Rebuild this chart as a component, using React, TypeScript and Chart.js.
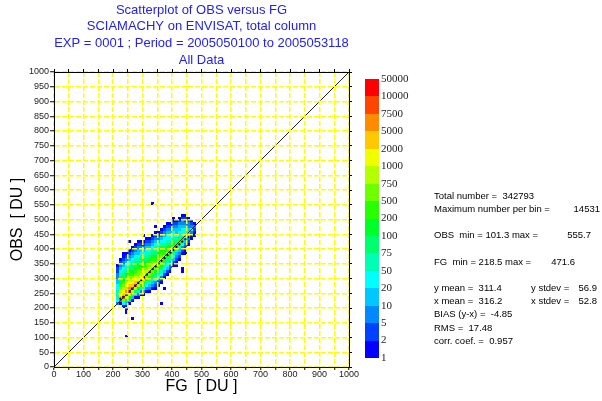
import React, { useEffect, useRef } from 'react';
import { Chart, registerables } from 'chart.js';

Chart.register(...registerables);

// ---------- data ----------
const TITLE_LINES = [
  'Scatterplot of OBS versus FG',
  'SCIAMACHY on ENVISAT, total column',
  'EXP = 0001 ; Period = 2005050100 to 2005053118',
  'All Data',
];
const X_TITLE = 'FG  [ DU ]';
const Y_TITLE = 'OBS  [ DU ]';

const BIN_SIZE = 10;
// FG bins (lower edges); each has a column of colour classes starting at OBS bin LEVEL_START
const FG_BINS = [210, 220, 230, 240, 250, 260, 270, 280, 290, 300, 310, 320, 330, 340, 350, 360, 370, 380, 390, 400, 410, 420, 430, 440, 450, 460, 470];
const LEVEL_START = [210, 210, 200, 200, 210, 220, 230, 230, 240, 240, 250, 250, 260, 260, 270, 280, 300, 310, 320, 340, 350, 360, 380, 390, 410, 430, 440];
// colour class per OBS bin: 1..9, a..g = class 1..16
const LEVEL_COLUMNS = [
  '35666554433221',
  '1fdcba9877654321',
  '15afdcba9877654321',
  '148bgedcba987654321',
  '148bgedcba987654321',
  '147bfdcba9877654321',
  '147bfdcba9877654321',
  '1368becbaa9876544321',
  '1368becba9877654321',
  '13579becba987654321',
  '13568adba9876654321',
  '134679adba987654321',
  '134679adba987654321',
  '1235678aca9876654321',
  '1235678aca987654321',
  '1235678aca987654321',
  '1245679b9876554321',
  '1245679b9876554321',
  '1234678a876554321',
  '124568a876554321',
  '123467976544321',
  '123467976544321',
  '12356865543321',
  '1234575543221',
  '1234643321',
  '1235321',
  '11231',
];
// isolated single-count bins (lower edges)
const OUTLIER_FG = [330, 250, 430, 430, 370, 260, 240, 360, 240, 240, 300, 340, 400, 440, 410, 230];
const OUTLIER_OBS = [550, 420, 320, 330, 260, 160, 100, 210, 190, 180, 440, 470, 500, 380, 340, 380];

// mean OBS per FG bin (black dots)
const MEAN_FG = [225, 235, 245, 255, 265, 275, 285, 295, 305, 315, 325, 335, 345, 355, 365, 375, 385, 395, 405, 415, 425, 435, 445, 455, 465];
const MEAN_OBS = [232, 238, 247, 256, 265, 275, 284, 294, 303, 313, 322, 332, 341, 351, 360, 369, 379, 388, 397, 407, 416, 425, 433, 440, 445];

const COLORBAR_LABELS = ['1', '2', '5', '10', '20', '50', '75', '100', '200', '500', '750', '1000', '2000', '5000', '7500', '10000', '50000'];
const COLORBAR_COLORS = [
  '#0000ff', '#0040ff', '#0088ff', '#00c8ff', '#00ffff', '#00ffb4', '#00ff6e', '#00ff28',
  '#28ff00', '#6eff00', '#b4ff00', '#f0ff00', '#ffc800', '#ff8c00', '#ff4600', '#ff0000',
];

// statistics text
const STATS_LINES = [
  ['Total number =  342793'],
  ['Maximum number per bin =', '14531'],
  [],
  ['OBS  min = 101.3 max =', '555.7'],
  [],
  ['FG  min = 218.5 max =', '471.6'],
  [],
  ['y mean =  311.4', 'y stdev =', '56.9'],
  ['x mean =  316.2', 'x stdev =', '52.8'],
  ['BIAS (y-x) =  -4.85'],
  ['RMS =  17.48'],
  ['corr. coef. =  0.957'],
];

// ---------- build ----------
type Cell = { x: number; y: number; level: number };
function buildCells(): Cell[] {
  const cells: Cell[] = [];
  FG_BINS.forEach((fg, i) => {
    const col = LEVEL_COLUMNS[i];
    for (let j = 0; j < col.length; j++) {
      const lv = parseInt(col[j], 17);
      if (lv > 0) cells.push({ x: fg + BIN_SIZE / 2, y: LEVEL_START[i] + j * BIN_SIZE + BIN_SIZE / 2, level: lv });
    }
  });
  OUTLIER_FG.forEach((fg, k) => cells.push({ x: fg + BIN_SIZE / 2, y: OUTLIER_OBS[k] + BIN_SIZE / 2, level: 1 }));
  return cells;
}

const SANS = '"Liberation Sans", Arial, sans-serif';
const SERIF = '"Liberation Serif", "Times New Roman", serif';

const extrasPlugin = {
  id: 'extras',
  beforeDatasetsDraw(chart: any) {
    const { ctx, chartArea, scales } = chart;
    const xs = scales.x, ys = scales.y;
    ctx.save();
    ctx.beginPath();
    ctx.rect(chartArea.left, chartArea.top, chartArea.right - chartArea.left, chartArea.bottom - chartArea.top);
    ctx.clip();
    const cells = chart.data.datasets[0].data as Cell[];
    for (const c of cells) {
      const x0 = Math.round(xs.getPixelForValue(c.x - BIN_SIZE / 2));
      const x1 = Math.round(xs.getPixelForValue(c.x + BIN_SIZE / 2));
      const y0 = Math.round(ys.getPixelForValue(c.y + BIN_SIZE / 2));
      const y1 = Math.round(ys.getPixelForValue(c.y - BIN_SIZE / 2));
      ctx.fillStyle = COLORBAR_COLORS[c.level - 1];
      ctx.fillRect(x0, y0, x1 - x0, y1 - y0);
    }
    ctx.restore();
    ctx.beginPath();
  },
  afterDraw(chart: any) {
    const { ctx, chartArea } = chart;
    ctx.save();
    // title
    ctx.fillStyle = '#2222ee';
    ctx.font = '13px ' + SANS;
    ctx.textAlign = 'center';
    ctx.textBaseline = 'middle';
    const cx = (chartArea.left + chartArea.right) / 2;
    TITLE_LINES.forEach((t, i) => ctx.fillText(t, cx, 10 + i * 16.7));

    // colour bar
    const barL = 365, barR = 379, barTop = 79, barBot = 358;
    const h = (barBot - barTop) / COLORBAR_COLORS.length;
    COLORBAR_COLORS.forEach((col, i) => {
      const yb = barBot - i * h;
      const yt = barBot - (i + 1) * h;
      ctx.fillStyle = col;
      ctx.fillRect(barL, Math.round(yt), barR - barL, Math.round(yb) - Math.round(yt));
    });
    ctx.fillStyle = '#222';
    ctx.font = '11px ' + SERIF;
    ctx.textAlign = 'left';
    COLORBAR_LABELS.forEach((lab, i) => ctx.fillText(lab, 381, barBot - i * h));

    // statistics
    ctx.fillStyle = '#000';
    ctx.font = '9.5px ' + SANS;
    // [x, align] per part
    const partPos: Record<number, [number, CanvasTextAlign][]> = {
      1: [[434, 'left'], [600, 'right']],
      3: [[434, 'left'], [591, 'right']],
      5: [[434, 'left'], [575, 'right']],
      7: [[434, 'left'], [531, 'left'], [597, 'right']],
      8: [[434, 'left'], [531, 'left'], [597, 'right']],
    };
    STATS_LINES.forEach((parts, i) => {
      const y = 196 + i * 13.2;
      const pos = partPos[i] ?? [[434, 'left']];
      parts.forEach((p, k) => {
        const [px, al] = pos[k] ?? [434, 'left'];
        ctx.textAlign = al;
        ctx.fillText(p, px, y);
      });
    });
    ctx.restore();
  },
};

export default function App() {
  const ref = useRef<HTMLCanvasElement | null>(null);
  useEffect(() => {
    if (!ref.current) return;
    const cells = buildCells();
    const means = MEAN_FG.map((x, i) => ({ x, y: MEAN_OBS[i] }));
    const tickFont = { family: SANS, size: 9 };
    const frameAxis = (pos: string) => ({
      type: 'linear', min: 0, max: 1000, position: pos,
      ticks: { stepSize: 50, autoSkip: false, display: false },
      grid: { drawOnChartArea: false, tickLength: 3, tickColor: '#000', tickWidth: 1, z: 1 },
      border: { color: '#000', width: 1, z: 2 },
      afterFit: (s: any) => {
        if (pos === 'top') s.height = 0; else s.width = 0;
        s.paddingLeft = 0; s.paddingRight = 0; s.paddingTop = 0; s.paddingBottom = 0;
      },
    });
    const chart = new Chart(ref.current, {
      type: 'scatter',
      data: {
        datasets: [
          { label: 'bins', data: cells as any, pointRadius: 0, pointHoverRadius: 0 },
          {
            label: 'y = x', type: 'line' as any, data: [{ x: 0, y: 0 }, { x: 1000, y: 1000 }],
            borderColor: '#222', borderWidth: 1, pointRadius: 0, fill: false,
          },
          { label: 'mean', data: means, pointRadius: 1.1, backgroundColor: '#000', borderWidth: 0 },
        ],
      },
      options: {
        animation: false,
        responsive: false,
        devicePixelRatio: 1,
        events: [],
        layout: { padding: { left: 0, top: 72, right: 253, bottom: 0 } },
        plugins: { legend: { display: false }, tooltip: { enabled: false }, title: { display: false } },
        scales: {
          x: {
            type: 'linear', min: 0, max: 1000, position: 'bottom',
            ticks: {
              stepSize: 50, autoSkip: false, maxRotation: 0, padding: -1, color: '#222', font: tickFont,
              callback: (v: any) => (Number(v) % 100 === 0 ? String(v) : ''),
            },
            grid: { color: '#ffff00', lineWidth: 1.5, z: 1, tickLength: 3, tickColor: '#000', tickWidth: 1 },
            border: { color: '#000', width: 1, dash: [5, 2], z: 2 },
            title: { display: true, text: X_TITLE, color: '#000', font: { family: SANS, size: 16 }, padding: { top: 0, bottom: 5 } },
            afterFit: (s: any) => { s.height = 34; s.paddingLeft = 0; s.paddingRight = 0; },
          },
          y: {
            type: 'linear', min: 0, max: 1000, position: 'left',
            ticks: { stepSize: 50, autoSkip: false, padding: 1, color: '#222', font: tickFont, callback: (v: any) => String(v) },
            grid: { color: '#ffff00', lineWidth: 1.5, z: 1, tickLength: 4, tickColor: '#000', tickWidth: 1 },
            border: { color: '#000', width: 1, dash: [5, 2], z: 2 },
            title: { display: true, text: Y_TITLE, color: '#000', font: { family: SANS, size: 16 }, padding: { top: 8, bottom: 0 } },
            afterFit: (s: any) => { s.width = 54; s.paddingTop = 0; s.paddingBottom = 0; },
          },
          x2: frameAxis('top'),
          y2: frameAxis('right'),
        },
      },
      plugins: [extrasPlugin],
    } as any);
    return () => chart.destroy();
  }, []);
  return (
    <canvas ref={ref} width={602} height={401} style={{ position: 'absolute', left: 0, top: 0, width: 602, height: 401 }} />
  );
}
